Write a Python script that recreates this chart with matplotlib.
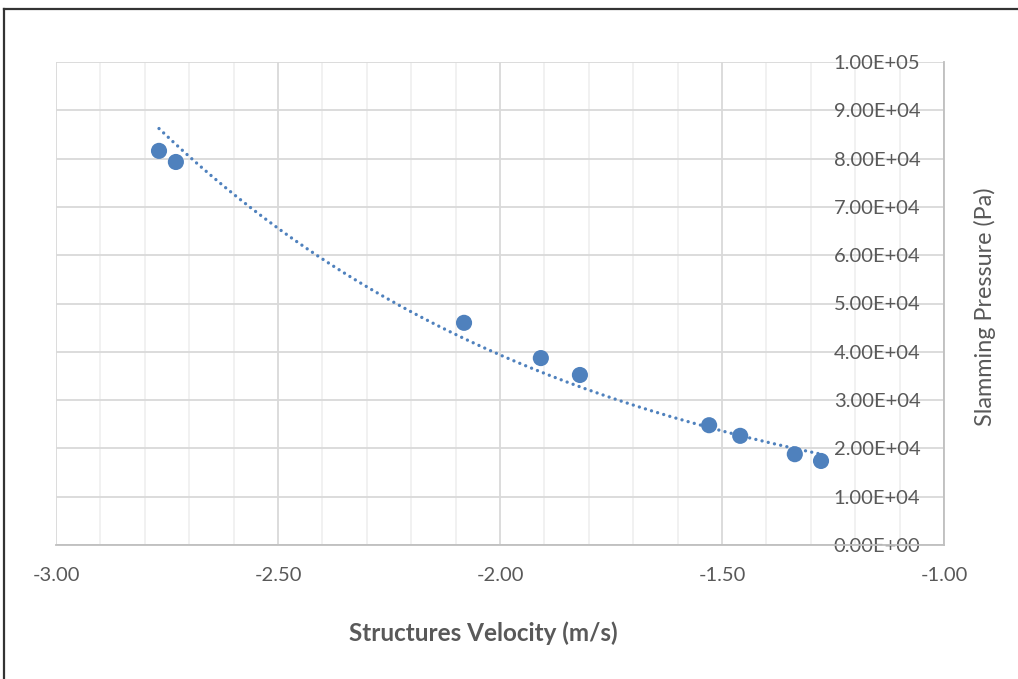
import numpy as np
import matplotlib.pyplot as plt
from matplotlib.lines import Line2D
from matplotlib.ticker import MultipleLocator, FormatStrFormatter

velocity = [-2.768, -2.730, -2.081, -1.908, -1.820, -1.529, -1.459, -1.336, -1.277]
pressure = [81600, 79300, 46000, 38700, 35200, 24800, 22600, 18800, 17400]

x_ticks = [-3.0, -2.5, -2.0, -1.5, -1.0]
y_ticks = [0, 10000, 20000, 30000, 40000, 50000, 60000, 70000, 80000, 90000, 100000]

# exponential trendline (Excel style), spans the data range
b, ln_a = np.polyfit(velocity, np.log(pressure), 1)
xt = np.linspace(min(velocity), max(velocity), 200)
yt = np.exp(ln_a) * np.exp(b * xt)

plt.rcParams['font.family'] = ['Lato', 'DejaVu Sans']
txt = '#595959'

fig = plt.figure(figsize=(10.18, 6.79), dpi=100)
ax = fig.add_axes([56/1018, 1 - 545/679, (944-56)/1018, (545-62)/679])

ax.plot(xt, yt, color='#4F81BD', lw=2.4, linestyle=(0, (0.01, 1.9)),
        dash_capstyle='round', zorder=3)
ax.scatter(velocity, pressure, s=135, color='#4F81BD', edgecolors='none', zorder=4)

ax.set_xlim(-3.0, -1.0)
ax.set_ylim(0, 100000)
ax.set_xticks(x_ticks)
ax.xaxis.set_minor_locator(MultipleLocator(0.1))
ax.set_yticks(y_ticks)
ax.xaxis.set_major_formatter(FormatStrFormatter('%.2f'))
ax.set_yticklabels(['%.2fE+%02d' % (v / 10**(len(str(v)) - 1) if v else 0,
                                     (len(str(v)) - 1) if v else 0) for v in y_ticks])

ax.grid(which='major', axis='both', color='#d9d9d9', lw=1.3)
ax.grid(which='minor', axis='x', color='#f0f0f0', lw=1.3)
ax.set_axisbelow(True)

for s in ['top', 'left']:
    ax.spines[s].set_visible(False)
for s in ['bottom', 'right']:
    ax.spines[s].set_color('#bfbfbf')
    ax.spines[s].set_linewidth(1.3)

ax.yaxis.tick_right()
ax.tick_params(axis='y', which='both', length=0, pad=-17, labelsize=14.5, colors=txt)
ax.tick_params(axis='x', which='both', length=0, pad=16, labelsize=14.5, colors=txt)
for lab in ax.get_yticklabels():
    lab.set_ha('right')

fig.text(985/1018, 1 - 307/679, 'Slamming Pressure (Pa)', rotation=90,
         ha='center', va='center', fontsize=16.8, color=txt)
fig.text(483/1018, 1 - 633/679, 'Structures Velocity (m/s)', ha='center',
         va='center', fontsize=17.5, fontweight='bold', color=txt)

# outer chart border (left and top visible in the crop)
fig.add_artist(Line2D([4/1018, 4/1018], [0, 1 - 9/679], transform=fig.transFigure,
                      color='#333333', lw=1.6))
fig.add_artist(Line2D([4/1018, 1], [1 - 9/679, 1 - 9/679], transform=fig.transFigure,
                      color='#333333', lw=1.6))

fig.savefig('out.png', dpi=100)
